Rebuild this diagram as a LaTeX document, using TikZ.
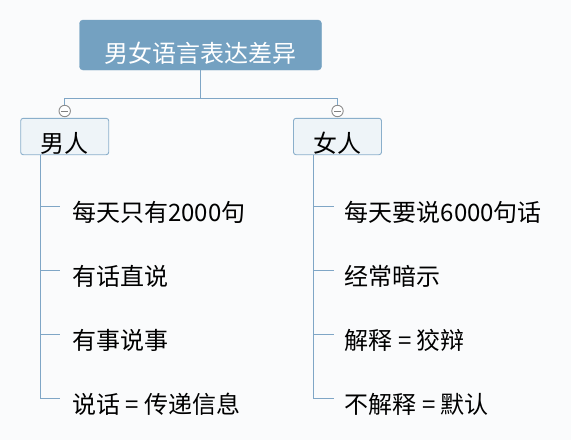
\documentclass[tikz,border=0pt]{standalone}
\usepackage{fontspec}
\newfontfamily\cjk{Noto Sans CJK SC}
\usepackage{xcolor}
\usetikzlibrary{positioning,calc}
\definecolor{rootblue}{HTML}{74A1C1}
\definecolor{topicfill}{HTML}{EEF4F8}
\definecolor{topicline}{HTML}{8AAFCB}
\definecolor{branchblue}{HTML}{7FA6C6}
\definecolor{paper}{HTML}{FAFBFC}

\begin{document}
\begin{tikzpicture}[
 x=1pt,y=-1pt,font=\cjk\fontsize{24pt}{28pt}\selectfont,
 root/.style={draw=rootblue,fill=rootblue,text=white,rounded corners=3.5pt,
              minimum width=242pt,inner ysep=0pt,text height=42pt,text depth=8pt},
 topic/.style={draw=topicline,fill=topicfill,rounded corners=2.5pt,line width=0.9pt,
               minimum width=88pt,inner ysep=0pt,text height=34pt,text depth=2.4pt},
 leaf/.style={anchor=west,inner xsep=0pt,inner ysep=0pt,text height=32pt,text depth=2pt},
 fold/.style={circle,draw=black!45,fill=white,line width=0.9pt,minimum size=11.4pt,inner sep=0pt,
              path picture={\draw[black!50,line width=0.9pt]
                ([xshift=-3.5pt]path picture bounding box.center) --
                ([xshift=3.5pt]path picture bounding box.center);}},
 branch/.style={draw=branchblue,line width=1pt}]
\fill[paper] (0,0) rectangle (571,440);
\useasboundingbox (0,0) rectangle (571,440);
\node[root] (root) at (200.5,45) {男女语言表达差异};
\node[topic] (man) at (64.7,136.5) {男人};
\node[topic] (woman) at (337.5,136.5) {女人};
\node[fold] (mfold) at (64.7,111) {};
\node[fold] (wfold) at (337.5,111) {};
\draw[branch] (root.south) -- ++(0,28.7) coordinate (split) -| (mfold.north);
\draw[branch] (split) -| (wfold.north);
% men
\node[leaf] (m1) at (72,206) {每天只有2000句};
\node[leaf] (m2) at (72,270) {有话直说};
\node[leaf] (m3) at (72,334) {有事说事};
\node[leaf] (m4) at (72,398) {说话 = 传递信息};
\coordinate (mspine) at ([xshift=20pt]man.south west);
\draw[branch] (mspine) |- ([xshift=-12pt]m4.west);
\draw[branch] (mspine |- m1.west) -- ([xshift=-12pt]m1.west);
\draw[branch] (mspine |- m2.west) -- ([xshift=-12pt]m2.west);
\draw[branch] (mspine |- m3.west) -- ([xshift=-12pt]m3.west);
% women
\node[leaf] (w1) at (344.5,206) {每天要说6000句话};
\node[leaf] (w2) at (344.5,270) {经常暗示};
\node[leaf] (w3) at (344.5,334) {解释 = 狡辩};
\node[leaf] (w4) at (344.5,398) {不解释 = 默认};
\coordinate (wspine) at ([xshift=20pt]woman.south west);
\draw[branch] (wspine) |- ([xshift=-11pt]w4.west);
\draw[branch] (wspine |- w1.west) -- ([xshift=-11pt]w1.west);
\draw[branch] (wspine |- w2.west) -- ([xshift=-11pt]w2.west);
\draw[branch] (wspine |- w3.west) -- ([xshift=-11pt]w3.west);
\end{tikzpicture}
\end{document}
